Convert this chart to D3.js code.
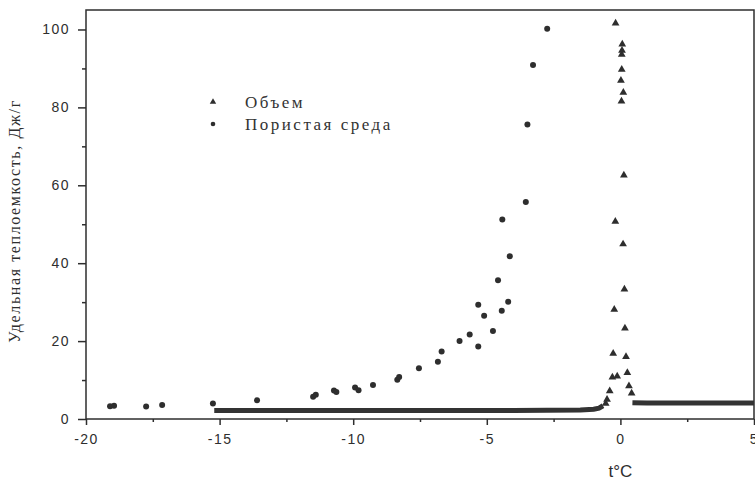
<!DOCTYPE html>
<html>
<head>
<meta charset="utf-8">
<script src="https://cdn.jsdelivr.net/npm/d3@7"></script>
<style>
  body { margin: 0; background: #fff; }
  svg { display: block; }
</style>
</head>
<body>
<div id="chart"></div>
<script>
// Пористая среда (circles)
const poreT = [-19.1, -18.95, -17.75, -17.15, -15.25, -13.6, -11.5, -11.4, -10.72, -10.63,
  -9.93, -9.8, -9.26, -8.35, -8.28, -7.54, -6.83, -6.69, -6.02, -5.64,
  -5.32, -5.32, -5.1, -4.77, -4.44, -4.2, -4.58, -4.14, -4.42, -3.54,
  -3.48, -3.27, -2.74];
const poreC = [3.3, 3.4, 3.2, 3.6, 4.0, 4.8, 5.7, 6.2, 7.3, 6.9,
  8.1, 7.4, 8.7, 10.1, 10.8, 13.0, 14.7, 17.3, 20.0, 21.7,
  18.6, 29.3, 26.5, 22.6, 27.8, 30.1, 35.6, 41.8, 51.2, 55.7,
  75.6, 90.9, 100.2];

// Объем (triangles) around the melting peak
const bulkT = [-0.55, -0.5, -0.4, -0.3, -0.12, -0.27, -0.23, -0.19, -0.18, 0.05,
  0.06, 0.07, 0.05, 0.02, 0.11, 0.04, 0.13, 0.1, 0.15, 0.17,
  0.21, 0.26, 0.32, 0.42];
const bulkC = [4.0, 5.0, 7.2, 10.7, 11.0, 16.8, 28.1, 50.7, 101.6, 93.6,
  94.6, 96.2, 89.7, 86.9, 83.8, 81.6, 62.6, 44.9, 33.3, 23.3,
  16.0, 11.9, 8.5, 6.6];

// Объем, dense baseline runs (drawn as a thick band)
const baseLeftT = [-15.2, -12, -8, -4, -1.5, -1.0, -0.8, -0.65];
const baseLeftC = [2.2, 2.2, 2.2, 2.2, 2.3, 2.5, 2.8, 3.4];
const baseRightT = [0.45, 1, 3, 5];
const baseRightC = [4.2, 4.1, 4.1, 4.1];

const xTicks = [-20, -15, -10, -5, 0, 5];
const xMinor = [-17.5, -12.5, -7.5, -2.5, 2.5];
const yTicks = [0, 20, 40, 60, 80, 100];
const yMinor = [10, 30, 50, 70, 90];

const W = 755, H = 484;
const margin = { left: 86, right: 1, top: 10, bottom: 65 };
const ink = "#2e2e2e";

const svg = d3.select("#chart").append("svg")
    .attr("width", W)
    .attr("height", H);

const x = d3.scaleLinear().domain([-20, 5]).range([margin.left, W - margin.right]);
const y = d3.scaleLinear().domain([0, 105]).range([H - margin.bottom, margin.top]);

// frame
svg.append("rect")
    .attr("x", x(-20))
    .attr("y", y(105))
    .attr("width", x(5) - x(-20))
    .attr("height", y(0) - y(105))
    .attr("fill", "none")
    .attr("stroke", ink)
    .attr("stroke-width", 1.5);

// axes (plain hyphen for negatives, as in the scan)
svg.append("g")
    .attr("transform", `translate(0,${y(0)})`)
    .call(d3.axisBottom(x).tickValues(xTicks).tickSize(6).tickPadding(9).tickFormat(d => String(d)));
svg.append("g")
    .attr("transform", `translate(0,${y(0)})`)
    .call(d3.axisBottom(x).tickValues(xMinor).tickSize(3).tickFormat(""));

svg.append("g")
    .attr("transform", `translate(${x(-20)},0)`)
    .call(d3.axisLeft(y).tickValues(yTicks).tickSize(8).tickPadding(8).tickFormat(d => String(d)));
svg.append("g")
    .attr("transform", `translate(${x(-20)},0)`)
    .call(d3.axisLeft(y).tickValues(yMinor).tickSize(4).tickFormat(""));

svg.selectAll(".domain").remove();
svg.selectAll(".tick line").attr("stroke", ink).attr("stroke-width", 1.5);
svg.selectAll(".tick text")
    .attr("fill", "#2e2e2e")
    .style("font-family", "'Liberation Sans', Arial, sans-serif")
    .style("font-size", "14px")
    .style("letter-spacing", "1.5px");

// axis titles
svg.append("text")
    .attr("x", x(0))
    .attr("y", 477)
    .attr("text-anchor", "middle")
    .attr("fill", "#2e2e2e")
    .style("font-family", "'Liberation Sans', Arial, sans-serif")
    .style("font-size", "17px")
    .text("t°C");

svg.append("text")
    .attr("transform", `translate(20,221) rotate(-90)`)
    .attr("text-anchor", "middle")
    .attr("fill", "#2e2e2e")
    .style("font-family", "'Liberation Serif', 'Times New Roman', serif")
    .style("font-size", "16px")
    .style("letter-spacing", "1.6px")
    .text("Удельная теплоемкость, Дж/г");

// baseline bands
const line = d3.line().x(d => x(d[0])).y(d => y(d[1]));
[[baseLeftT, baseLeftC], [baseRightT, baseRightC]].forEach(([t, c]) => {
    svg.append("path")
        .datum(d3.zip(t, c))
        .attr("d", line)
        .attr("fill", "none")
        .attr("stroke", "#333")
        .attr("stroke-width", 5);
});

const tri = d3.symbol().type(d3.symbolTriangle).size(26);

svg.append("g").selectAll("path")
    .data(d3.zip(bulkT, bulkC))
    .join("path")
    .attr("transform", d => `translate(${x(d[0])},${y(d[1])})`)
    .attr("d", tri)
    .attr("fill", ink);

svg.append("g").selectAll("circle")
    .data(d3.zip(poreT, poreC))
    .join("circle")
    .attr("cx", d => x(d[0]))
    .attr("cy", d => y(d[1]))
    .attr("r", 3)
    .attr("fill", ink);

// legend
const legend = svg.append("g");
legend.append("path")
    .attr("transform", "translate(213,102)")
    .attr("d", d3.symbol().type(d3.symbolTriangle).size(18))
    .attr("fill", ink);
legend.append("circle")
    .attr("cx", 213).attr("cy", 124).attr("r", 2.3)
    .attr("fill", ink);
[["Объем", 108], ["Пористая среда", 130]].forEach(([label, yy]) => {
    legend.append("text")
        .attr("x", 245)
        .attr("y", yy)
        .attr("fill", "#333")
        .style("font-family", "'Liberation Serif', 'Times New Roman', serif")
        .style("font-size", "17px")
        .style("letter-spacing", "2.5px")
        .text(label);
});
</script>
</body>
</html>
